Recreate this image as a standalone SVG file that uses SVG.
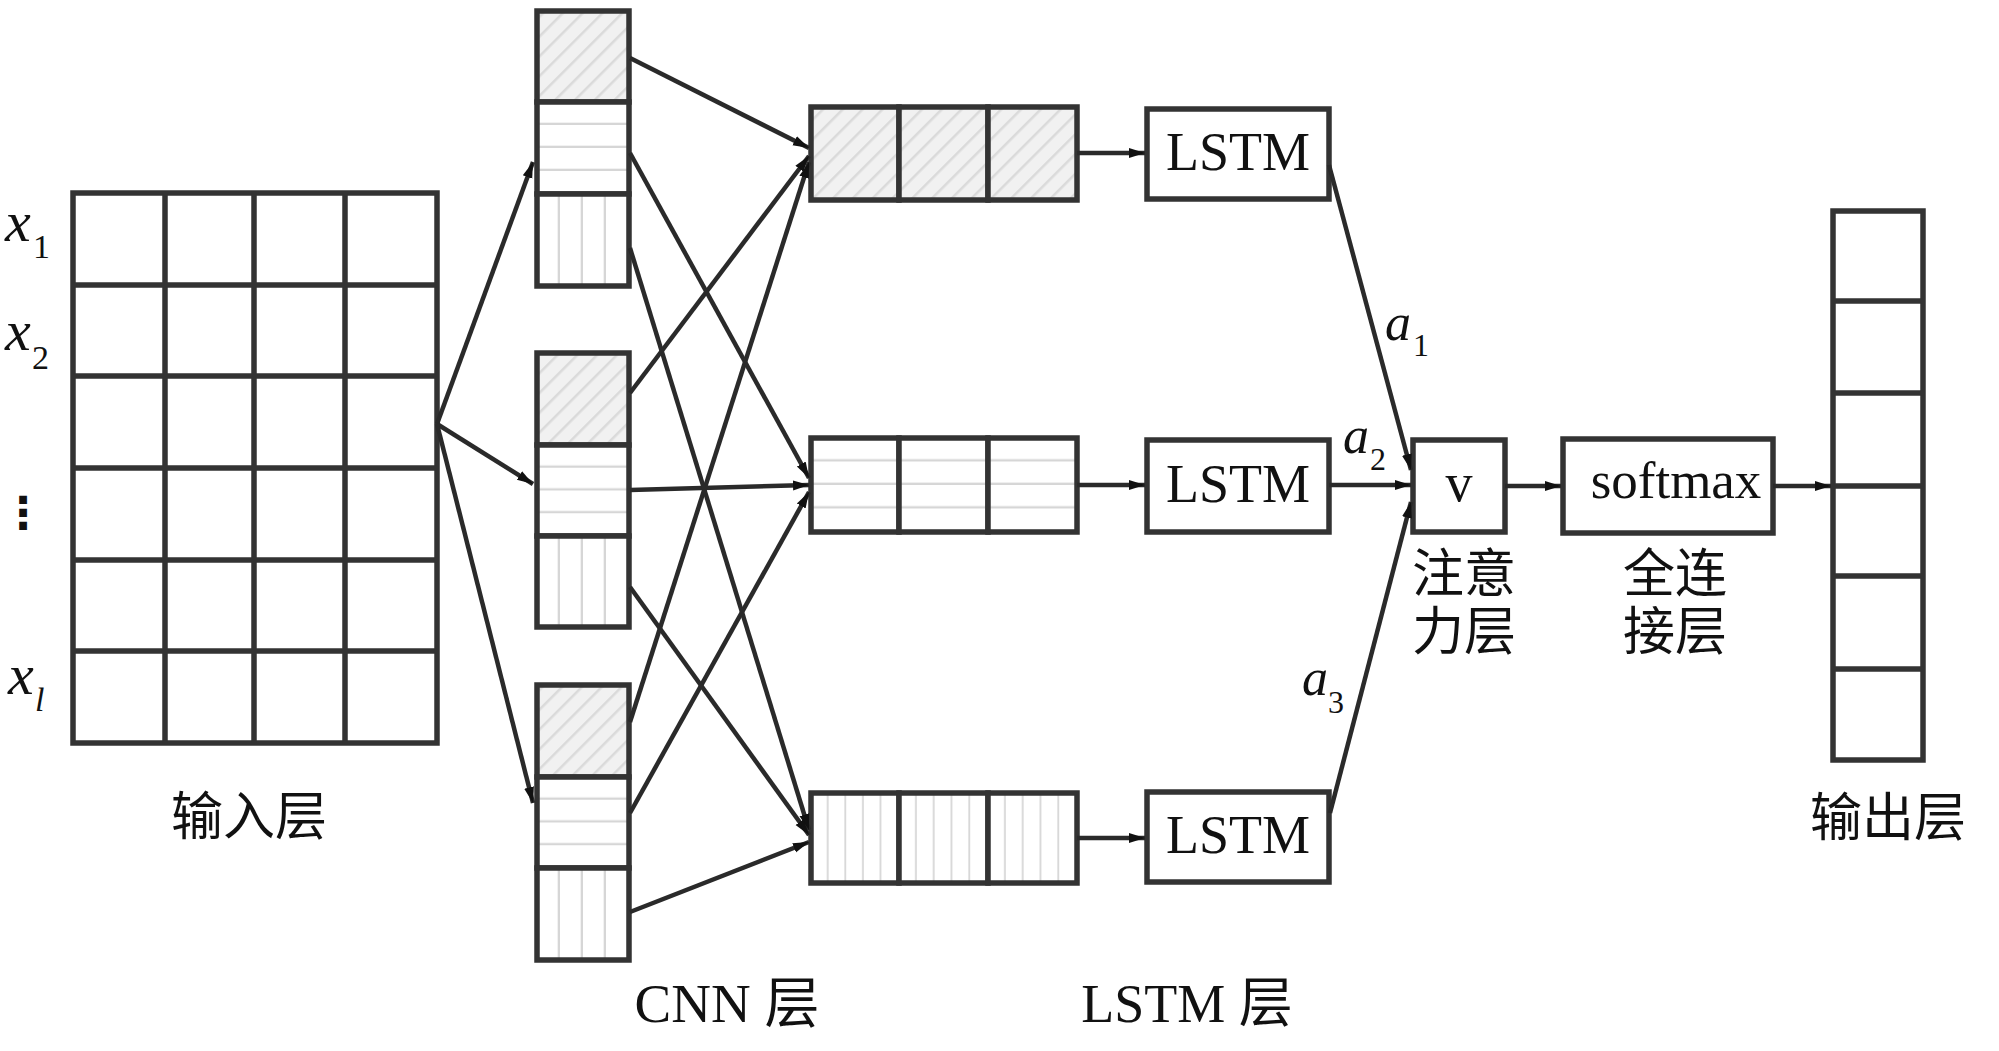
<svg xmlns="http://www.w3.org/2000/svg" width="1999" height="1051" viewBox="0 0 1999 1051">
<defs>
<pattern id="hatch" patternUnits="userSpaceOnUse" width="14" height="14" patternTransform="rotate(45)">
<rect width="14" height="14" fill="#f1f1f1"/>
<rect x="0" y="0" width="2.5" height="14" fill="#dadada"/>
</pattern>
<pattern id="hs" patternUnits="objectBoundingBox" patternContentUnits="objectBoundingBox" width="1" height="0.25">
<rect width="1" height="0.25" fill="#ffffff"/>
<rect x="0" y="0.225" width="1" height="0.04" fill="#d6d6d6"/>
</pattern>
<pattern id="vs4" patternUnits="objectBoundingBox" patternContentUnits="objectBoundingBox" width="0.25" height="1">
<rect width="0.25" height="1" fill="#ffffff"/>
<rect x="0.225" y="0" width="0.04" height="1" fill="#d6d6d6"/>
</pattern>
<pattern id="vs5" patternUnits="objectBoundingBox" patternContentUnits="objectBoundingBox" width="0.2" height="1">
<rect width="0.2" height="1" fill="#ffffff"/>
<rect x="0.18" y="0" width="0.035" height="1" fill="#d6d6d6"/>
</pattern>
<marker id="ah" markerUnits="userSpaceOnUse" markerWidth="18" markerHeight="12" refX="16" refY="6" orient="auto">
<path d="M0,1 L16,6 L0,11 z" fill="#111"/>
</marker>
</defs>
<style>
.box{stroke:#333;stroke-width:5.5;}
.ln{stroke:#333;stroke-width:5.5;fill:none;}
.con{stroke:#2a2a2a;stroke-width:4.5;fill:none;marker-end:url(#ah);}
.t{font-family:"Liberation Serif","Noto Sans CJK SC",serif;fill:#111;}
.cjk{font-family:"Liberation Serif","Noto Sans CJK SC",serif;fill:#111;font-size:52px;text-anchor:middle;}
.it{font-family:"Liberation Serif",serif;font-style:italic;fill:#111;}
.sub{font-family:"Liberation Serif",serif;fill:#111;}
</style>
<rect width="1999" height="1051" fill="#ffffff"/>

<g id="input-layer">
<rect class="box" x="73" y="193" width="364" height="550" fill="#fff"/>
<path class="ln" d="M165,193V743M254,193V743M345,193V743M73,285H437M73,376H437M73,468H437M73,560H437M73,651H437"/>
<text class="it" x="5" y="241" font-size="58">x</text><text class="sub" x="33" y="258" font-size="34">1</text>
<text class="it" x="5" y="350" font-size="58">x</text><text class="sub" x="32" y="369" font-size="34">2</text>
<text x="23" y="528" font-size="44" font-weight="bold" text-anchor="middle" style="font-family:'Noto Sans CJK SC','DejaVu Sans',sans-serif;fill:#111">⋮</text>
<text class="it" x="8" y="694" font-size="58">x</text><text class="it" x="35" y="711" font-size="34">l</text>
<text class="cjk" x="249" y="835">输入层</text>
</g>

<g id="cnn-1">
<rect class="box" x="537" y="11" width="92" height="91" fill="url(#hatch)"/>
<rect class="box" x="537" y="102" width="92" height="92" fill="url(#hs)"/>
<rect class="box" x="537" y="194" width="92" height="92" fill="url(#vs4)"/>
</g>
<g id="cnn-2">
<rect class="box" x="537" y="353" width="92" height="92" fill="url(#hatch)"/>
<rect class="box" x="537" y="445" width="92" height="91" fill="url(#hs)"/>
<rect class="box" x="537" y="536" width="92" height="91" fill="url(#vs4)"/>
</g>
<g id="cnn-3">
<rect class="box" x="537" y="685" width="92" height="92" fill="url(#hatch)"/>
<rect class="box" x="537" y="777" width="92" height="91" fill="url(#hs)"/>
<rect class="box" x="537" y="868" width="92" height="92" fill="url(#vs4)"/>
<text class="t" x="727" y="1022" font-size="55" text-anchor="middle">CNN 层</text>
</g>

<g id="feat-1">
<rect class="box" x="811" y="107" width="88" height="93" fill="url(#hatch)"/>
<rect class="box" x="899" y="107" width="89" height="93" fill="url(#hatch)"/>
<rect class="box" x="988" y="107" width="89" height="93" fill="url(#hatch)"/>
</g>
<g id="feat-2">
<rect class="box" x="811" y="438" width="88" height="94" fill="url(#hs)"/>
<rect class="box" x="899" y="438" width="89" height="94" fill="url(#hs)"/>
<rect class="box" x="988" y="438" width="89" height="94" fill="url(#hs)"/>
</g>
<g id="feat-3">
<rect class="box" x="811" y="793" width="88" height="90" fill="url(#vs5)"/>
<rect class="box" x="899" y="793" width="89" height="90" fill="url(#vs5)"/>
<rect class="box" x="988" y="793" width="89" height="90" fill="url(#vs5)"/>
</g>

<g id="lstm-1"><rect class="box" x="1147" y="109" width="182" height="90" fill="#fff"/><text class="t" x="1238" y="170" font-size="54" text-anchor="middle">LSTM</text></g>
<g id="lstm-2"><rect class="box" x="1147" y="440" width="182" height="92" fill="#fff"/><text class="t" x="1238" y="502" font-size="54" text-anchor="middle">LSTM</text></g>
<g id="lstm-3"><rect class="box" x="1147" y="792" width="182" height="90" fill="#fff"/><text class="t" x="1238" y="853" font-size="54" text-anchor="middle">LSTM</text></g>
<g id="lstm-label"><text class="t" x="1187" y="1022" font-size="54" text-anchor="middle">LSTM 层</text></g>

<g id="attention">
<rect class="box" x="1413" y="440" width="92" height="92" fill="#fff"/>
<text class="t" x="1459" y="501" font-size="54" text-anchor="middle">v</text>
<text class="cjk" x="1464" y="592">注意</text>
<text class="cjk" x="1464" y="650">力层</text>
</g>

<g id="fc">
<rect class="box" x="1563" y="439" width="210" height="94" fill="#fff"/>
<text class="t" x="1676" y="498" font-size="53" text-anchor="middle">softmax</text>
<text class="cjk" x="1675" y="592">全连</text>
<text class="cjk" x="1675" y="650">接层</text>
</g>

<g id="output-layer">
<rect class="box" x="1833" y="211" width="90" height="549" fill="#fff"/>
<path class="ln" d="M1833,301H1923M1833,393H1923M1833,486H1923M1833,576H1923M1833,669H1923"/>
<text class="cjk" x="1888" y="836">输出层</text>
</g>

<g id="connectors">
<path class="con" d="M437,424L533,162"/>
<path class="con" d="M437,424L533,484"/>
<path class="con" d="M437,424L533,803"/>
<path class="con" d="M630,58L809,148"/>
<path class="con" d="M630,393L809,156"/>
<path class="con" d="M630,722L809,162"/>
<path class="con" d="M630,153L809,478"/>
<path class="con" d="M630,490L809,485"/>
<path class="con" d="M630,813L809,492"/>
<path class="con" d="M630,248L809,830"/>
<path class="con" d="M630,587L809,835"/>
<path class="con" d="M630,912L809,842"/>
<path class="con" d="M1077,153L1145,153"/>
<path class="con" d="M1077,485L1145,485"/>
<path class="con" d="M1077,838L1145,838"/>
<path class="con" d="M1329,165L1411,470"/>
<path class="con" d="M1329,485L1411,485"/>
<path class="con" d="M1330,813L1411,502"/>
<path class="con" d="M1505,486L1561,486"/>
<path class="con" d="M1773,486L1831,486"/>
<text class="it" x="1385" y="340" font-size="52">a</text><text class="sub" x="1413" y="356" font-size="32">1</text>
<text class="it" x="1343" y="453" font-size="52">a</text><text class="sub" x="1370" y="470" font-size="32">2</text>
<text class="it" x="1302" y="695" font-size="52">a</text><text class="sub" x="1328" y="713" font-size="32">3</text>
</g>
</svg>
